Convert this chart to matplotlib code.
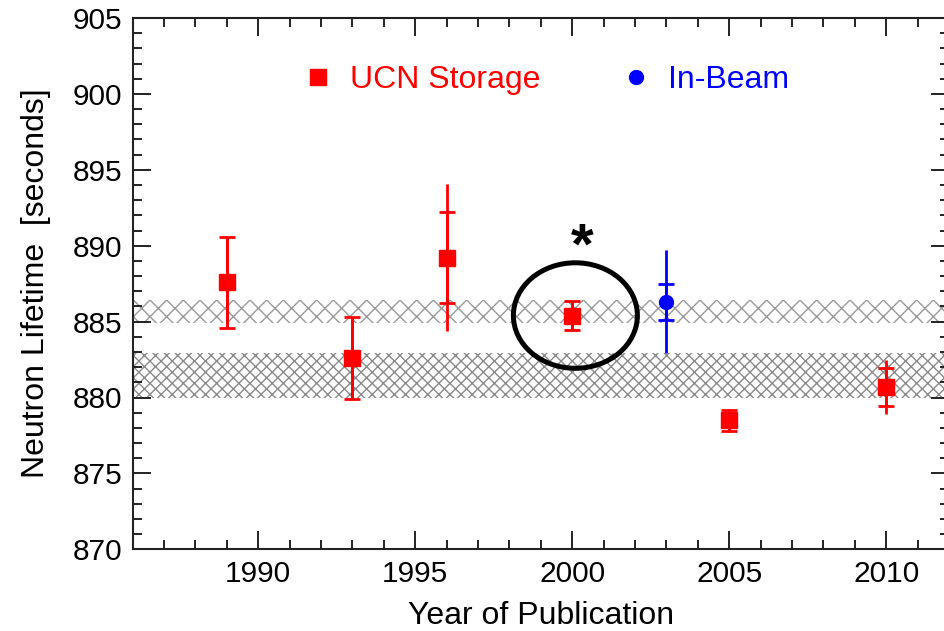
import matplotlib
matplotlib.use("Agg")
from matplotlib import pyplot as plt
from matplotlib.lines import Line2D
from matplotlib.patches import Ellipse
from matplotlib.ticker import MultipleLocator

plt.rcParams['font.family'] = ['Liberation Sans', 'DejaVu Sans']
plt.rcParams['hatch.linewidth'] = 1.0

# UCN storage measurements: year, lifetime, stat error, total error
storage_years = [1989, 1993, 1996, 2000, 2005, 2010]
storage_tau = [887.6, 882.6, 889.2, 885.4, 878.5, 880.7]
storage_stat = [3.0, 2.7, 3.0, 0.95, 0.7, 1.25]
storage_tot = [3.0, 2.7, 4.85, 0.95, 0.76, 1.8]

# in-beam measurement
beam_years = [2003]
beam_tau = [886.3]
beam_stat = [1.2]
beam_tot = [3.4]

# averages shown as hatched bands (low, high)
band_storage = (880.0, 882.95)
band_beam = (884.9, 886.4)

# highlighted point
circle_year, circle_tau = 2000.1, 885.4

fig = plt.figure(figsize=(9.45, 6.31), dpi=100)
ax = fig.add_axes([132.7 / 945, 1 - 549.3 / 631, (949 - 132.7) / 945, (549.3 - 18) / 631])

ax.axhspan(*band_beam, facecolor='none', edgecolor='#999999', hatch='xx', linewidth=0, zorder=1)
ax.axhspan(*band_storage, facecolor='none', edgecolor='#8a8a8a', hatch='xxx', linewidth=0, zorder=1)

# total errors without caps, then stat errors with caps
ax.errorbar(storage_years, storage_tau, yerr=storage_tot, fmt='none', ecolor='red',
            elinewidth=2, capsize=0, zorder=3)
ax.errorbar(storage_years, storage_tau, yerr=storage_stat, fmt='s', color='red',
            markersize=11, elinewidth=2, capsize=5.5, capthick=2, zorder=4)
ax.errorbar(beam_years, beam_tau, yerr=beam_tot, fmt='none', ecolor='blue',
            elinewidth=2, capsize=0, zorder=3)
ax.errorbar(beam_years, beam_tau, yerr=beam_stat, fmt='o', color='blue',
            markersize=10, elinewidth=2, capsize=5.5, capthick=2, zorder=4)

ax.add_patch(Ellipse((circle_year, circle_tau), 3.95, 6.95, fill=False,
                     edgecolor='black', linewidth=3.6, zorder=5))
ax.text(2000.33, 889.8, '*', fontsize=42, fontweight='bold', ha='center', va='center',
        zorder=5)

ax.set_xlim(1986, 2012)
ax.set_ylim(870, 905)
ax.xaxis.set_major_locator(MultipleLocator(5))
ax.xaxis.set_minor_locator(MultipleLocator(1))
ax.yaxis.set_major_locator(MultipleLocator(5))
ax.yaxis.set_minor_locator(MultipleLocator(1))

ax.tick_params(which='both', direction='in', top=True, right=True, width=1.4,
               color='#222222', labelsize=21.5, pad=7.5)
ax.tick_params(which='major', length=12.7)
ax.tick_params(which='minor', length=6.3)
for sp in ax.spines.values():
    sp.set_linewidth(1.5)
    sp.set_color('#222222')

ax.set_xlabel('Year of Publication', fontsize=23, va='center')
ax.xaxis.set_label_coords(0.5, -0.125)
ax.set_ylabel('Neutron Lifetime  [seconds]', fontsize=23, va='center')
ax.yaxis.set_label_coords(-0.118, 0.5)

handles = [
    Line2D([], [], ls='none', marker='s', color='red', markersize=11, label='UCN Storage'),
    Line2D([], [], ls='none', marker='o', color='blue', markersize=10, label='In-Beam'),
]
ax.legend(handles=handles, ncol=2, loc='center', bbox_to_anchor=(0.506, 0.883),
          frameon=False, fontsize=23, handlelength=1.0, handletextpad=0.5,
          columnspacing=2.5, labelcolor='linecolor', borderpad=0)

fig.savefig('out.png', dpi=100)
